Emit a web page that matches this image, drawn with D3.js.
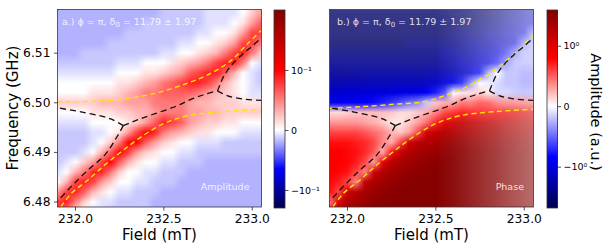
<!DOCTYPE html>
<meta charset="utf-8">
<style>
  body { margin: 0; background: #fff; }
  svg text { font-family: "DejaVu Sans", sans-serif; fill: #000; }
  .tick line { stroke: #222; stroke-width: 0.8px; }
</style>
<body>
<svg id="chart" width="604" height="250"></svg>
<script src="https://d3js.org/d3.v7.min.js"></script>
<script>
// grid of the maps: field (mT) columns, frequency (GHz) rows from top to bottom
var fieldGrid = [231.90, 231.95, 232.00, 232.05, 232.10, 232.15, 232.20, 232.25, 232.30, 232.35, 232.40, 232.45,
                 232.50, 232.55, 232.60, 232.65, 232.70, 232.75, 232.80, 232.85, 232.90, 232.95, 233.00, 233.05];
var freqGrid = [6.518, 6.516, 6.514, 6.512, 6.510, 6.508, 6.506, 6.504, 6.502, 6.500, 6.498,
                6.496, 6.494, 6.492, 6.490, 6.488, 6.486, 6.484, 6.482, 6.480, 6.478];

// a.) amplitude map
var amplitude = [
  [-.006,-.006,-.006,-.006,-.006,-.006,-.006,-.006,-.006,-.006,-.006,-.006,-.004,-.004,-.004,-.004,-.004,-.002,-.002,-.002,-.002,0,.006,.015],
  [-.006,-.006,-.006,-.006,-.006,-.006,-.006,-.006,-.006,-.006,-.004,-.004,-.004,-.004,-.004,-.004,-.004,-.002,-.002,-.002,0,.003,.015,.035],
  [-.006,-.006,-.006,-.006,-.006,-.006,-.006,-.006,-.004,-.004,-.004,-.004,-.004,-.004,-.004,-.004,-.002,-.002,0,0,.003,.015,.05,.05],
  [-.006,-.006,-.006,-.006,-.006,-.006,-.004,-.004,-.004,-.004,-.004,-.004,-.004,-.004,-.002,-.002,0,0,.003,.006,.015,.05,.05,.025],
  [-.006,-.006,-.006,-.004,-.004,-.004,-.004,-.004,-.004,-.004,-.004,-.004,-.002,-.002,0,0,.003,.006,.01,.025,.05,.07,.025,.006],
  [-.004,-.004,-.004,-.004,-.004,-.004,-.004,-.002,-.002,-.002,0,0,0,.003,.006,.01,.015,.025,.05,.07,.07,.025,0,-.002],
  [-.002,-.002,-.002,-.002,-.002,-.002,-.002,0,0,0,.003,.003,.006,.01,.015,.035,.05,.07,.07,.035,.01,0,-.002,-.004],
  [0,0,0,0,0,0,0,.003,.003,.006,.01,.015,.025,.035,.05,.07,.07,.05,.025,.01,.003,0,-.002,-.004],
  [0,0,0,0,.003,.003,.003,.006,.01,.015,.025,.025,.035,.035,.035,.035,.025,.015,.01,.006,.003,0,-.002,-.002],
  [.006,.006,.006,.006,.006,.01,.01,.01,.015,.015,.015,.025,.025,.025,.025,.015,.01,.01,.006,.006,.006,.003,.003,.003],
  [0,0,0,0,.003,.003,.003,.006,.006,.01,.01,.015,.025,.025,.025,.015,.015,.01,.01,.006,.006,.006,.006,.006],
  [-.002,-.002,-.002,-.002,0,0,0,0,.003,.006,.015,.035,.07,.05,.035,.015,.01,.006,.006,.003,.003,0,0,0],
  [-.004,-.004,-.004,-.004,-.002,-.002,0,.003,.015,.05,.1,.07,.025,.015,.01,.006,.003,.003,0,0,0,-.002,-.002,-.002],
  [-.004,-.004,-.004,-.004,-.002,0,.006,.025,.1,.1,.035,.015,.006,.003,0,0,-.002,-.002,-.002,-.004,-.004,-.004,-.004,-.004],
  [-.004,-.004,-.004,-.002,0,.01,.035,.1,.05,.015,.006,.003,0,0,-.002,-.002,-.004,-.004,-.004,-.004,-.004,-.004,-.004,-.004],
  [-.004,-.002,0,.006,.015,.05,.1,.035,.01,.003,0,0,-.002,-.002,-.004,-.004,-.004,-.006,-.006,-.006,-.006,-.006,-.006,-.006],
  [-.002,0,.01,.025,.07,.07,.025,.006,0,0,-.002,-.002,-.004,-.004,-.004,-.006,-.006,-.006,-.006,-.006,-.006,-.006,-.006,-.006],
  [0,.01,.05,.07,.05,.015,.006,0,0,-.002,-.002,-.004,-.004,-.004,-.006,-.006,-.006,-.006,-.006,-.006,-.006,-.006,-.006,-.006],
  [.015,.05,.07,.035,.01,.003,0,-.002,-.002,-.004,-.004,-.004,-.006,-.006,-.006,-.006,-.006,-.006,-.006,-.006,-.006,-.006,-.006,-.006],
  [.05,.07,.025,.006,0,-.002,-.002,-.004,-.004,-.004,-.004,-.006,-.006,-.006,-.006,-.006,-.006,-.006,-.006,-.006,-.006,-.006,-.006,-.006],
  [.07,.025,.006,0,-.002,-.002,-.004,-.004,-.004,-.004,-.004,-.006,-.006,-.006,-.006,-.006,-.006,-.006,-.006,-.006,-.006,-.006,-.006,-.006]
];

// b.) phase map
var phase = [
  [-4,-4,-4,-4,-4,-4,-4,-4,-4,-4,-4,-4,-4,-4,-4,-4,-4,-4,-4,-3,-3,-2,-2,-1.5],
  [-4,-4,-4,-4,-4,-4,-4,-4,-4,-4,-4,-4,-4,-4,-4,-4,-4,-3,-3,-3,-2,-2,-1.5,-1],
  [-4,-4,-4,-4,-4,-4,-4,-4,-4,-4,-4,-4,-4,-4,-3,-3,-3,-3,-2,-2,-1.5,-1.5,-1,-.2],
  [-4,-4,-4,-4,-4,-4,-4,-4,-4,-3,-3,-3,-3,-3,-3,-3,-2,-2,-2,-1.5,-1.5,-1,-.2,-.1],
  [-3,-3,-3,-3,-3,-3,-3,-3,-3,-3,-3,-3,-3,-2,-2,-2,-2,-1.5,-1.5,-1,-.5,-.2,-.1,-.1],
  [-2.5,-2.5,-2.5,-2.5,-2.5,-2.5,-2.5,-2.5,-2.5,-2.5,-2.5,-2.5,-2.5,-2,-2,-1.5,-1.5,-1.2,-1,-.5,-.2,-.1,-.1,-.1],
  [-2.3,-2.3,-2.2,-2.2,-2.2,-2.1,-2.1,-2,-2,-2,-2,-1.9,-1.8,-1.6,-1.5,-1.3,-1,-.6,-.1,0,-.1,-.1,-.15,-.15],
  [-1.7,-1.7,-1.7,-1.7,-1.6,-1.6,-1.6,-1.5,-1.5,-1.5,-1.5,-1.4,-1.3,-1.1,-.8,-.5,-.15,0,-.02,-.05,-.1,-.1,-.15,-.15],
  [-1.2,-1.2,-1.1,-1.1,-1.1,-1,-1,-1,-.9,-.9,-.9,-.7,-.5,-.3,0,.02,.03,.05,.02,-.05,-.05,-.08,-.1,-.1],
  [-.8,-.8,-.75,-.7,-.65,-.6,-.5,-.4,-.3,-.2,-.15,-.05,.05,.08,.1,.2,.2,.3,.3,.2,.2,.2,.2,.2],
  [.03,.03,.04,.05,.06,.06,.06,.05,.03,.03,.05,.08,.15,.3,.4,.5,.5,.5,.5,.6,.8,.9,1,1],
  [.12,.12,.12,.12,.1,.08,.05,.02,.02,.05,.1,.2,.4,.8,1.2,1.5,1.5,1.6,1.7,1.7,1.8,1.8,1.8,1.8],
  [.3,.3,.3,.3,.25,.2,.15,.08,.05,.1,.3,1.2,1.5,2,2,2.2,2.3,2.4,2.5,2.5,2.5,2.5,2.5,2.5],
  [.5,.5,.5,.45,.4,.3,.15,.08,.3,1.2,1.8,2,2.3,2.7,3,3,3,3,3.2,3.2,3.2,3.2,3.2,3.2],
  [.6,.6,.55,.5,.4,.25,.08,.5,1.6,2,2.4,2.8,3,3.3,3.5,3.6,3.7,3.8,3.8,3.8,3.8,3.8,3.8,3.8],
  [.6,.6,.55,.45,.3,.1,.8,1.8,2.2,2.7,3,3.3,3.6,3.8,4,4,4,4,4,4,4,4,4,4],
  [.6,.55,.5,.3,.15,1.2,2,2.5,3,3.3,3.6,3.8,4,4,4,4,4,4,4,4,4,4,4,4],
  [.55,.45,.3,.15,1.5,2.2,2.7,3.1,3.5,3.8,4,4,4,4,4,4,4,4,4,4,4,4,4,4],
  [.5,.3,1.2,1.8,2.3,2.9,3.3,3.7,4,4,4,4,4,4,4,4,4,4,4,4,4,4,4,4],
  [.15,1,2,2.5,3,3.4,3.8,4,4,4,4,4,4,4,4,4,4,4,4,4,4,4,4,4],
  [1,2,2.7,3.1,3.5,3.9,4,4,4,4,4,4,4,4,4,4,4,4,4,4,4,4,4,4]
];
// weight (opacity) of the phase map, by column and by row
var phaseWeightField = [1, 1, 1, 1, 1, 1, 1, 1, 1, 1, 1, 1, 1, .97, .94, .9, .86, .82, .78, .74, .7, .66, .62, .58];
var phaseWeightFreq = [.78, .79, .8, .82, .85, .88, .92, .96, 1, 1, 1, 1, 1, 1, 1, 1, 1, 1, 1, 1, 1];

// fitted modes (yellow) and eigenvalue branches (black), [field, frequency]
var fitUpperA = [[231.90, 6.5001], [232.085, 6.5002], [232.264, 6.5006], [232.452, 6.5018], [232.640, 6.5039],
                 [232.772, 6.5059], [232.885, 6.5085], [232.979, 6.5119], [233.055, 6.5145]];
var fitUpperB = [[231.90, 6.4988], [232.075, 6.4991], [232.264, 6.4996], [232.433, 6.5001], [232.565, 6.5015],
                 [232.659, 6.5028], [232.734, 6.5042], [232.810, 6.5059], [232.885, 6.5079], [232.960, 6.5102],
                 [233.035, 6.5129], [233.055, 6.5136]];
var fitLower = [[231.921, 6.4790], [231.981, 6.4817], [232.075, 6.4844], [232.169, 6.4874], [232.264, 6.4901],
                [232.377, 6.4931], [232.508, 6.4958], [232.640, 6.4973], [232.829, 6.4981], [233.055, 6.4986]];
var branchLeft = [[232.273, 6.4953], [232.198, 6.4967], [232.085, 6.4977], [231.90, 6.4989]];
var branchDown = [[232.273, 6.4953], [232.245, 6.4935], [232.169, 6.4894], [232.075, 6.4864], [231.981, 6.4831], [231.90, 6.4800]];
var branchMid = [[232.273, 6.4953], [232.356, 6.4965], [232.452, 6.4977], [232.565, 6.4991], [232.650, 6.5005],
                 [232.734, 6.5016], [232.806, 6.5023]];
var branchUp = [[232.806, 6.5023], [232.822, 6.5037], [232.842, 6.5053], [232.885, 6.5075], [232.942, 6.5095],
                [232.998, 6.5112], [233.055, 6.5130]];
var branchRight = [[232.806, 6.5023], [232.864, 6.5013], [232.960, 6.5006], [233.055, 6.5004]];

var fieldTicks = [232.0, 232.5, 233.0];
var freqTicks = [6.48, 6.49, 6.50, 6.51];
var ampTicks = [-0.1, 0, 0.1];
var phaseTicks = [-1, 0, 1];

var svg = d3.select("#chart");

var seismic = d3.scaleLinear()
  .domain([0, 0.25, 0.5, 0.75, 1])
  .range(["#00004c", "#0000ff", "#ffffff", "#ff0000", "#800000"])
  .clamp(true);

var fieldDomain = [231.901, 233.055];
var freqDomain = [6.4789, 6.5187];
var plotTop = 9.5, plotBottom = 207, plotWidth = 204;

// colour bars: symlog position scales
var ampBar = d3.scaleSymlog().constant(0.01).domain([-0.216, 1.2]).range([208, 10]);
var phaseBar = d3.scaleSymlog().constant(0.1).domain([-5.56, 4.43]).range([208, 10]);

function colorFrom(bar) {
  var y0 = bar(0), yTop = bar.range()[1], yBot = bar.range()[0];
  return function(v) {
    var p = bar(v);
    var t = p <= y0 ? 0.5 + 0.5 * (y0 - p) / (y0 - yTop) : 0.5 - 0.5 * (p - y0) / (yBot - y0);
    return seismic(t);
  };
}

var defs = svg.append("defs");

function drawPanel(id, left, grid, color, weight, upperFit, label, tag, showY) {
  var x = d3.scaleLinear().domain(fieldDomain).range([left, left + plotWidth]);
  var y = d3.scaleLinear().domain(freqDomain).range([plotBottom, plotTop]);
  var plotHeight = plotBottom - plotTop;

  defs.append("clipPath").attr("id", "clip" + id)
    .append("rect").attr("x", left).attr("y", plotTop).attr("width", plotWidth).attr("height", plotHeight);

  // heat map: one pixel per grid cell ...
  var nx = fieldGrid.length, ny = freqGrid.length;
  var cells = document.createElement("canvas");
  cells.width = nx;
  cells.height = ny;
  var ctx = cells.getContext("2d");
  var img = ctx.createImageData(nx, ny);
  grid.forEach(function(row, j) {
    row.forEach(function(v, i) {
      var c = d3.rgb(color(v));
      var w = weight ? weight(i, j) : 1;
      var k = 4 * (j * nx + i);
      img.data[k] = c.r * w + 255 * (1 - w);
      img.data[k + 1] = c.g * w + 255 * (1 - w);
      img.data[k + 2] = c.b * w + 255 * (1 - w);
      img.data[k + 3] = 255;
    });
  });
  ctx.putImageData(img, 0, 0);

  // ... drawn at plot size with smoothing, like imshow(interpolation="bilinear")
  var s = 2;
  var big = document.createElement("canvas");
  big.width = Math.ceil(plotWidth * s);
  big.height = Math.ceil(plotHeight * s);
  var bctx = big.getContext("2d");
  bctx.imageSmoothingEnabled = true;
  var dx = x(fieldGrid[1]) - x(fieldGrid[0]);
  var dy = y(freqGrid[1]) - y(freqGrid[0]);
  bctx.drawImage(cells,
    (x(fieldGrid[0]) - dx / 2 - left) * s, (y(freqGrid[0]) - dy / 2 - plotTop) * s,
    dx * nx * s, dy * ny * s);

  var g = svg.append("g").attr("clip-path", "url(#clip" + id + ")");
  g.append("image")
    .attr("href", big.toDataURL())
    .attr("x", left).attr("y", plotTop)
    .attr("width", big.width / s).attr("height", big.height / s)
    .attr("preserveAspectRatio", "none");

  var line = d3.line()
    .x(function(d) { return x(d[0]); })
    .y(function(d) { return y(d[1]); })
    .curve(d3.curveCatmullRom.alpha(0.5));

  [upperFit, fitLower].forEach(function(c) {
    g.append("path").attr("d", line(c))
      .attr("fill", "none").attr("stroke", "#ffe600")
      .attr("stroke-width", 1.4).attr("stroke-dasharray", "5,3.5");
  });
  [branchLeft, branchDown, branchMid, branchUp, branchRight].forEach(function(c) {
    g.append("path").attr("d", line(c))
      .attr("fill", "none").attr("stroke", "#111")
      .attr("stroke-width", 1.3).attr("stroke-dasharray", "6,4");
  });

  svg.append("rect").attr("x", left).attr("y", plotTop).attr("width", plotWidth).attr("height", plotHeight)
    .attr("fill", "none").attr("stroke", "#333").attr("stroke-width", 0.8);

  var xa = svg.append("g").attr("transform", "translate(0," + plotBottom + ")")
    .call(d3.axisBottom(x).tickValues(fieldTicks).tickFormat(d3.format(".1f")).tickSize(3.5).tickPadding(3.5));
  xa.select(".domain").remove();
  xa.selectAll("text").style("font-size", "12.3px").attr("fill", "#000");

  if (showY) {
    var ya = svg.append("g").attr("transform", "translate(" + left + ",0)")
      .call(d3.axisLeft(y).tickValues(freqTicks).tickFormat(d3.format(".2f")).tickSize(3.5).tickPadding(3.5));
    ya.select(".domain").remove();
    ya.selectAll("text").style("font-size", "12.3px").attr("fill", "#000");
  }

  svg.append("text").attr("x", left + plotWidth / 2).attr("y", 240)
    .attr("text-anchor", "middle").style("font-size", "15px").text("Field (mT)");

  var t = svg.append("text").attr("x", left + (showY ? 4.5 : 7.5)).attr("y", 25)
    .style("font-size", "9.5px").style("fill", "#fff").style("fill-opacity", 0.85);
  t.append("tspan").text(label + " \u03d5 = \u03c0, \u03b4");
  t.append("tspan").attr("dy", 2).style("font-size", "7px").text("0");
  t.append("tspan").attr("dy", -2).text(" = 11.79 \u00b1 1.97");

  svg.append("text").attr("x", left + plotWidth - (showY ? 12 : 9.5)).attr("y", 190)
    .attr("text-anchor", "end").style("font-size", "9.5px")
    .style("fill", "#fff").style("fill-opacity", 0.85).text(tag);
}

function drawBar(bar, left, width, ticks, fmt) {
  var color = colorFrom(bar);
  var g = svg.append("g").attr("shape-rendering", "crispEdges");
  d3.range(10, 208, 1).forEach(function(py) {
    g.append("rect").attr("x", left).attr("y", py).attr("width", width).attr("height", 1)
      .attr("fill", color(bar.invert(py + 0.5)));
  });
  svg.append("rect").attr("x", left).attr("y", 10).attr("width", width).attr("height", 198)
    .attr("fill", "none").attr("stroke", "#333").attr("stroke-width", 0.8);
  var a = svg.append("g").attr("transform", "translate(" + (left + width) + ",0)")
    .call(d3.axisRight(bar).tickValues(ticks).tickFormat(fmt).tickSize(3.5).tickPadding(2.5));
  a.select(".domain").remove();
  a.selectAll("text").style("font-size", "9.5px").attr("fill", "#000");
}

var ampColor = colorFrom(ampBar);
var phaseColor = colorFrom(phaseBar);

drawPanel("a", 57.5, amplitude, ampColor, null, fitUpperA, "a.)", "Amplitude", true);
drawPanel("b", 329.5, phase, phaseColor, function(i, j) { return phaseWeightField[i] * phaseWeightFreq[j]; },
  fitUpperB, "b.)", "Phase", false);

drawBar(ampBar, 274, 11, ampTicks, function(d) { return d === 0 ? "0" : (d < 0 ? "\u221210\u207b\u00b9" : "10\u207b\u00b9"); });
drawBar(phaseBar, 547, 10.5, phaseTicks, function(d) { return d === 0 ? "0" : (d < 0 ? "\u221210\u2070" : "10\u2070"); });

svg.append("text").attr("transform", "translate(18,108) rotate(-90)")
  .attr("text-anchor", "middle").style("font-size", "15px").text("Frequency (GHz)");
svg.append("text").attr("transform", "translate(590.5,112) rotate(90)")
  .attr("text-anchor", "middle").style("font-size", "14.5px").text("Amplitude (a.u.)");
</script>
</body>
